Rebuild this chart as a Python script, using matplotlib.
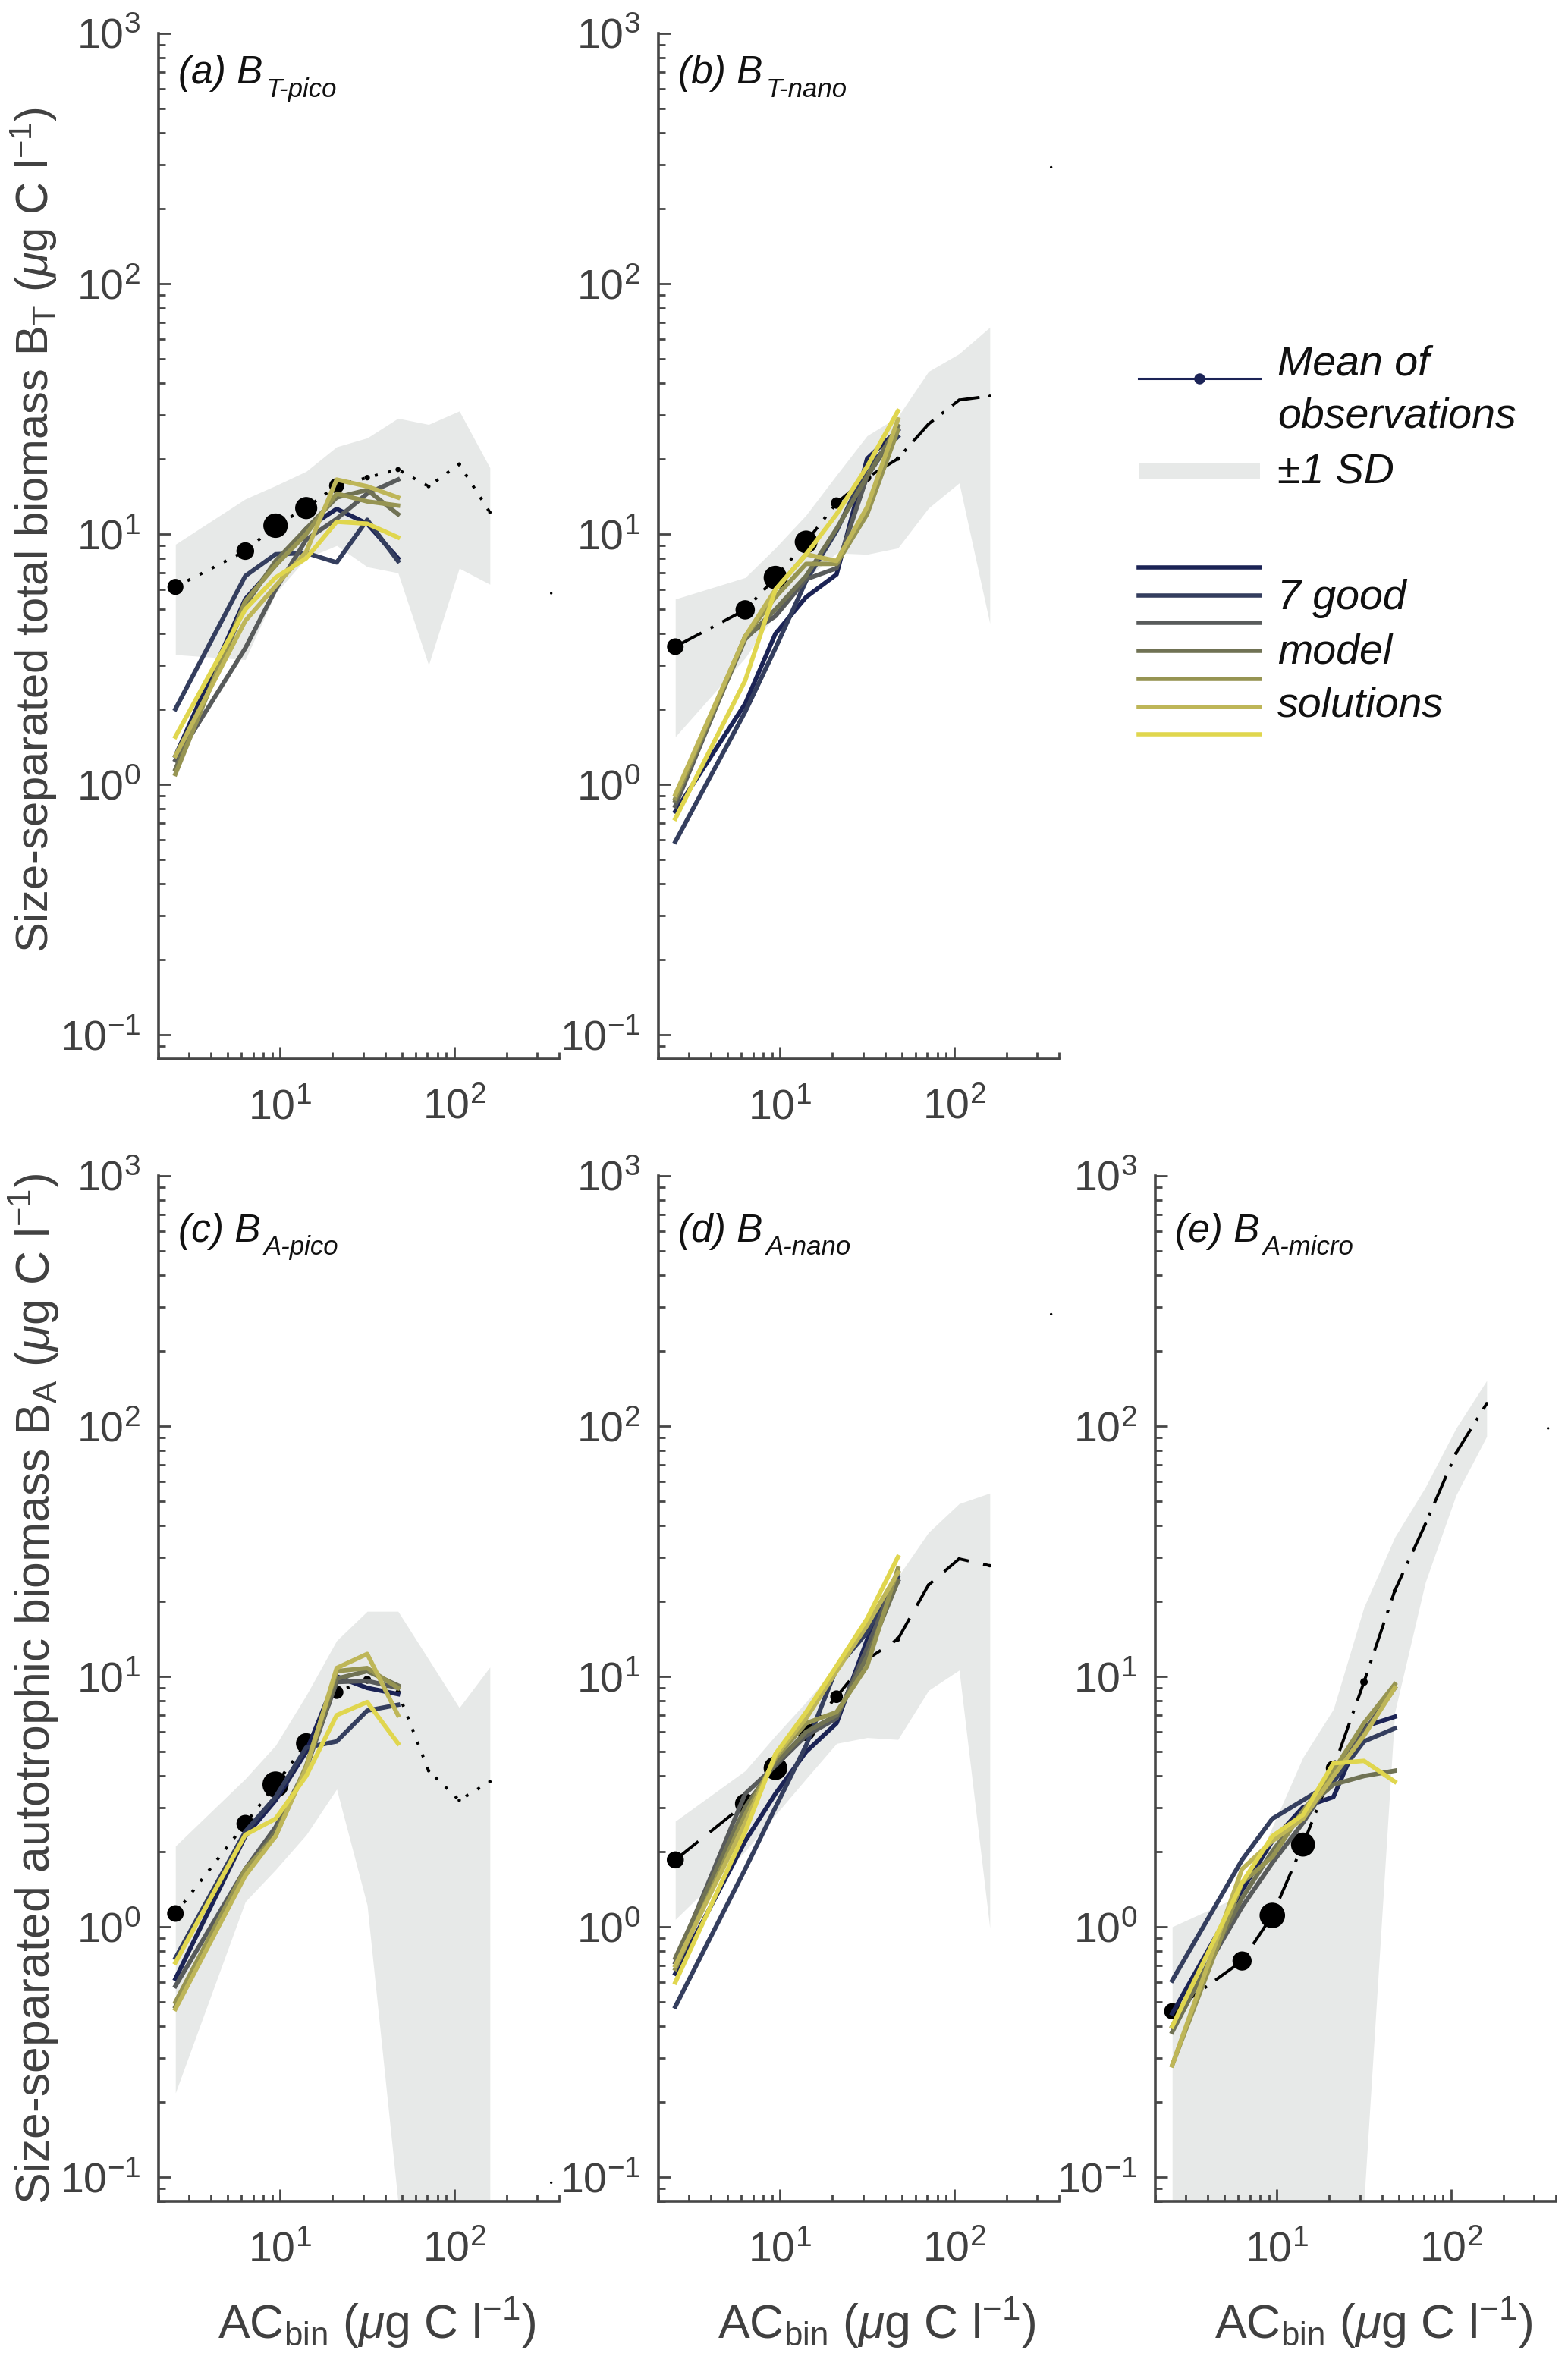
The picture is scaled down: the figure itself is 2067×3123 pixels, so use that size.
import numpy as np
import matplotlib
matplotlib.use("Agg")
import matplotlib.pyplot as plt
from matplotlib.ticker import LogLocator, NullFormatter

plt.rcParams["font.family"] = ["Liberation Sans", "DejaVu Sans"]
plt.rcParams["mathtext.fontset"] = "custom"
plt.rcParams["mathtext.rm"] = "Liberation Sans"
plt.rcParams["mathtext.it"] = "Liberation Sans:italic"
plt.rcParams["mathtext.bf"] = "Liberation Sans:bold"
plt.rcParams["mathtext.sf"] = "Liberation Sans"

# --- data ---------------------------------------------------------------
# AC bin centres (ug C l-1); model solutions only cover the first 7 bins
ac_bins = [2.5, 6.3, 9.4, 14.1, 21.1, 31.6, 47.5, 71.2, 106.8, 160.2, 240.3, 360.5]
sd_bins = ac_bins[:10]
model_bins = ac_bins[:7]

# (a) B_T-pico
obs_a = [6.15, 8.55, 10.8, 12.7, 15.6, 16.8, 18.1, 15.5, 19.0, 12.2, np.nan, 5.8]
dots_a = [7.6, 8.4, 11.6, 10.5, 7.2, 2.6, 2.4, 1.8, 1.8, 1.6, 0, 1.2]
sd_hi_a = [9.1, 13.8, 15.6, 17.8, 22.3, 24.2, 29.0, 27.4, 31.0, 18.4]
sd_lo_a = [3.3, 3.15, 5.8, 8.0, 9.0, 7.4, 7.0, 3.0, 7.3, 6.3]
model_a = [
    [1.3, 5.5, 7.5, 10.5, 12.6, 11.0, 8.0],
    [2.0, 6.8, 8.3, 8.4, 7.7, 11.4, 7.8],
    [1.25, 3.5, 6.0, 9.5, 11.5, 14.5, 16.5],
    [1.15, 5.2, 7.8, 10.5, 14.0, 15.0, 12.0],
    [1.1, 5.4, 7.5, 10.0, 14.5, 13.5, 13.0],
    [1.3, 4.5, 6.2, 8.5, 16.5, 15.5, 14.0],
    [1.55, 5.0, 6.7, 8.0, 11.2, 11.0, 9.7],
]

# (b) B_T-nano
obs_b = [3.55, 4.98, 6.7, 9.3, 13.3, 16.8, 20.0, 27.5, 34.3, 35.6, np.nan, 292]
dots_b = [7.9, 9.2, 11.2, 10.8, 5.4, 4.0, 2.1, 1.4, 1.4, 1.4, 0, 1.2]
sd_hi_b = [5.5, 6.7, 8.8, 11.9, 17.2, 24.7, 29.4, 44.6, 52.5, 67.0]
sd_lo_b = [1.55, 3.2, 4.8, 6.6, 8.4, 8.3, 8.8, 12.7, 16.0, 4.4]
model_b = [
    [0.78, 2.1, 4.0, 5.6, 6.9, 20.0, 26.0],
    [0.59, 1.95, 3.5, 6.5, 10.3, 18.5, 24.5],
    [0.82, 3.9, 4.7, 6.6, 7.3, 17.0, 26.0],
    [0.86, 3.8, 5.0, 6.8, 10.5, 17.0, 27.0],
    [0.88, 3.9, 5.6, 7.6, 7.6, 12.0, 26.0],
    [0.91, 3.9, 6.0, 8.3, 7.8, 12.8, 28.7],
    [0.73, 2.6, 6.0, 8.3, 12.0, 18.6, 31.0],
]

# (c) B_A-pico
obs_c = [1.13, 2.58, 3.7, 5.4, 8.65, 9.7, 8.65, 4.2, 3.2, 3.8, np.nan, 0.095]
dots_c = [7.9, 8.4, 12.4, 9.7, 6.4, 3.8, 2.4, 1.6, 1.6, 1.6, 0, 1.2]
sd_hi_c = [2.1, 3.9, 5.3, 8.4, 13.9, 18.2, 18.2, 11.7, 7.5, 10.9]
sd_lo_c = [0.217, 1.26, 1.69, 2.33, 3.55, 1.22, 0.08, 0.01, 0.01, 0.01]
model_c = [
    [0.62, 2.3, 3.2, 5.0, 10.0, 9.0, 8.5],
    [0.75, 2.4, 3.3, 5.2, 5.5, 7.3, 7.7],
    [0.58, 1.7, 2.5, 4.3, 9.5, 9.6, 9.0],
    [0.48, 1.65, 2.4, 4.3, 9.8, 10.5, 9.2],
    [0.5, 1.7, 2.3, 4.4, 10.5, 10.8, 9.0],
    [0.47, 1.6, 2.3, 4.3, 10.8, 12.3, 7.0],
    [0.72, 2.33, 2.7, 4.0, 7.0, 7.9, 5.4],
]

# (d) B_A-nano
obs_d = [1.85, 3.1, 4.3, 6.0, 8.3, 11.7, 14.1, 23.2, 29.5, 27.7, np.nan, 280]
dots_d = [8.1, 9.7, 11.2, 8.5, 6.0, 3.6, 2.4, 1.6, 1.6, 1.6, 0, 1.2]
sd_hi_d = [2.64, 4.2, 5.8, 7.9, 11.0, 15.0, 25.0, 37.6, 49.0, 54.0]
sd_lo_d = [1.07, 2.0, 2.8, 3.9, 5.4, 5.7, 5.6, 8.8, 10.6, 0.99]
model_d = [
    [0.65, 2.2, 3.4, 5.0, 6.5, 14.0, 24.0],
    [0.48, 1.7, 3.0, 5.3, 10.8, 15.0, 25.0],
    [0.72, 3.4, 4.4, 5.8, 6.8, 13.0, 26.0],
    [0.75, 3.0, 4.5, 6.0, 7.0, 12.0, 24.0],
    [0.68, 2.8, 4.7, 6.5, 7.2, 11.0, 27.0],
    [0.7, 2.6, 4.8, 6.8, 10.5, 16.0, 26.0],
    [0.6, 2.4, 4.9, 7.2, 11.0, 17.0, 30.0],
]

# (e) B_A-micro
obs_e = [0.46, 0.73, 1.11, 2.13, 4.3, 9.5, 22.0, 40.6, 78.0, 123.0, np.nan, 98.0]
dots_e = [7.7, 9.1, 12.1, 11.4, 7.2, 3.6, 2.0, 1.6, 1.6, 1.6, 0, 1.2]
sd_hi_e = [1.0, 1.34, 2.5, 4.75, 7.4, 18.9, 36.0, 57.0, 98.0, 152.0]
sd_lo_e = [0.01, 0.01, 0.01, 0.01, 0.01, 0.08, 7.2, 23.8, 53.0, 91.0]
model_e = [
    [0.45, 1.4, 2.2, 3.0, 3.3, 6.3, 6.9],
    [0.61, 1.85, 2.7, 3.2, 3.8, 5.5, 6.2],
    [0.4, 1.2, 1.8, 2.6, 4.0, 6.0, 9.0],
    [0.38, 1.3, 2.0, 2.9, 3.7, 4.0, 4.2],
    [0.28, 1.5, 1.9, 2.9, 4.2, 6.5, 9.3],
    [0.28, 1.7, 2.2, 2.7, 4.0, 5.8, 9.0],
    [0.4, 1.5, 2.3, 2.8, 4.5, 4.6, 3.8],
]

panel_tags = ["(a)", "(b)", "(c)", "(d)", "(e)"]
panel_subs = ["T-pico", "T-nano", "A-pico", "A-nano", "A-micro"]

# --- style --------------------------------------------------------------
model_colors = ["#1b2355", "#343e5e", "#585b5b", "#707254",
                "#969452", "#beb658", "#e0d64e"]
fill_col = "#e7e9e8"
axis_col = "#474747"
label_col = "#404040"
obs_styles = [(0, (1, 3.6)), (0, (10, 3.5, 1, 3.5)), (0, (1, 3.6)),
              (0, (10, 5)), (0, (10, 3.5, 1, 3.5))]

W, H = 2067, 3123
fig = plt.figure(figsize=(W / 200, H / 200), dpi=200)

col_left = [209, 868, 1523]
ax_w = 528
row_top = [44, 1550]
ax_h = 1352


def add_ax(col, row):
    left = col_left[col] / W
    bottom = 1 - (row_top[row] + ax_h) / H
    return fig.add_axes([left, bottom, ax_w / W, ax_h / H])


def style(ax):
    ax.set_xscale("log")
    ax.set_yscale("log")
    ax.set_xlim(2, 400)
    ax.set_ylim(0.08, 1000)
    for s in ("top", "right"):
        ax.spines[s].set_visible(False)
    for s in ("left", "bottom"):
        ax.spines[s].set_color(axis_col)
        ax.spines[s].set_linewidth(1.3)
    ax.yaxis.set_major_locator(LogLocator(base=10, numticks=10))
    ax.yaxis.set_minor_locator(LogLocator(base=10, subs=np.arange(2, 10), numticks=30))
    ax.xaxis.set_minor_locator(LogLocator(base=10, subs=np.arange(2, 10), numticks=30))
    ax.xaxis.set_minor_formatter(NullFormatter())
    ax.yaxis.set_minor_formatter(NullFormatter())
    ax.tick_params(which="both", direction="in", color=axis_col, width=1.0,
                   labelcolor=label_col, labelsize=20)
    ax.tick_params(which="major", length=5.8)
    ax.tick_params(which="minor", length=3.2)
    ax.tick_params(axis="y", which="major", pad=8.5)
    ax.tick_params(axis="x", which="major", pad=14)
    ax.patch.set_alpha(0)


def draw_panel(ax, k, obs, dots, sd_lo, sd_hi, models, label_y):
    ax.fill_between(sd_bins, sd_lo, sd_hi, color=fill_col, lw=0, zorder=1)
    ax.plot(ac_bins, obs, color="k", lw=1.4, ls=obs_styles[k], zorder=2)
    ax.scatter(ac_bins, obs, s=np.array(dots) ** 2, color="k", lw=0, zorder=2.5)
    for vals, c in zip(models, model_colors):
        ax.plot(model_bins, vals, color=c, lw=2.1, zorder=3)
    style(ax)
    t = ax.text(0.049, label_y, panel_tags[k] + " B", transform=ax.transAxes,
                fontsize=18.5, style="italic", color="#111111", va="baseline")
    ax.annotate(panel_subs[k], xy=(1, 0), xycoords=t, xytext=(1.5, -2.5),
                textcoords="offset points", fontsize=12.5, style="italic",
                color="#111111", va="baseline", ha="left")


ax_a = add_ax(0, 0)
draw_panel(ax_a, 0, obs_a, dots_a, sd_lo_a, sd_hi_a, model_a, 0.951)
ax_b = add_ax(1, 0)
draw_panel(ax_b, 1, obs_b, dots_b, sd_lo_b, sd_hi_b, model_b, 0.951)
ax_c = add_ax(0, 1)
draw_panel(ax_c, 2, obs_c, dots_c, sd_lo_c, sd_hi_c, model_c, 0.936)
ax_d = add_ax(1, 1)
draw_panel(ax_d, 3, obs_d, dots_d, sd_lo_d, sd_hi_d, model_d, 0.936)
ax_e = add_ax(2, 1)
draw_panel(ax_e, 4, obs_e, dots_e, sd_lo_e, sd_hi_e, model_e, 0.936)

# axis labels
fig.text(45 / W, 1 - 699 / H,
         r"Size-separated total biomass B$_\mathrm{T}$ ($\mu$g C l$^{-1}$)",
         rotation=90, ha="center", va="center", fontsize=21.5, color=label_col)
fig.text(45 / W, 1 - 2226 / H,
         r"Size-separated autotrophic biomass B$_\mathrm{A}$ ($\mu$g C l$^{-1}$)",
         rotation=90, ha="center", va="center", fontsize=22.5, color=label_col)
for ax in (ax_c, ax_d, ax_e):
    pos = ax.get_position()
    fig.text(pos.x0 + pos.width / 2 + 24 / W, 1 - 3082 / H,
             r"AC$_\mathrm{bin}$ ($\mu$g C l$^{-1}$)",
             ha="center", va="baseline", fontsize=22.5, color=label_col)

# legend, drawn by hand in pixel coordinates of the figure
lax = fig.add_axes([0, 0, 1, 1], zorder=5)
lax.set_xlim(0, W)
lax.set_ylim(H, 0)
lax.axis("off")
key_x0, key_x1, txt_x = 1501, 1661, 1684
leg_kw = dict(fontsize=20, style="italic", color="#111111", va="baseline")
lax.plot([key_x0, key_x1], [499, 499], color="#1c2457", lw=1.1)
lax.plot([(key_x0 + key_x1) / 2], [499], "o", color="#1c2457", ms=4.2)
lax.text(txt_x, 494, "Mean of", **leg_kw)
lax.text(txt_x, 563, "observations", **leg_kw)
lax.fill_between([key_x0, key_x1], [611, 611], [631, 631], color=fill_col, lw=0)
lax.text(txt_x, 637, "\u00b11 SD", **leg_kw)
for i, c in enumerate(model_colors):
    y = 748 + i * 36.7
    lax.plot([key_x0, key_x1], [y, y], color=c, lw=2.0)
lax.text(txt_x, 803, "7 good", **leg_kw)
lax.text(txt_x, 874, "model", **leg_kw)
lax.text(txt_x, 944, "solutions", **leg_kw)

fig.savefig("out.png", dpi=200)
